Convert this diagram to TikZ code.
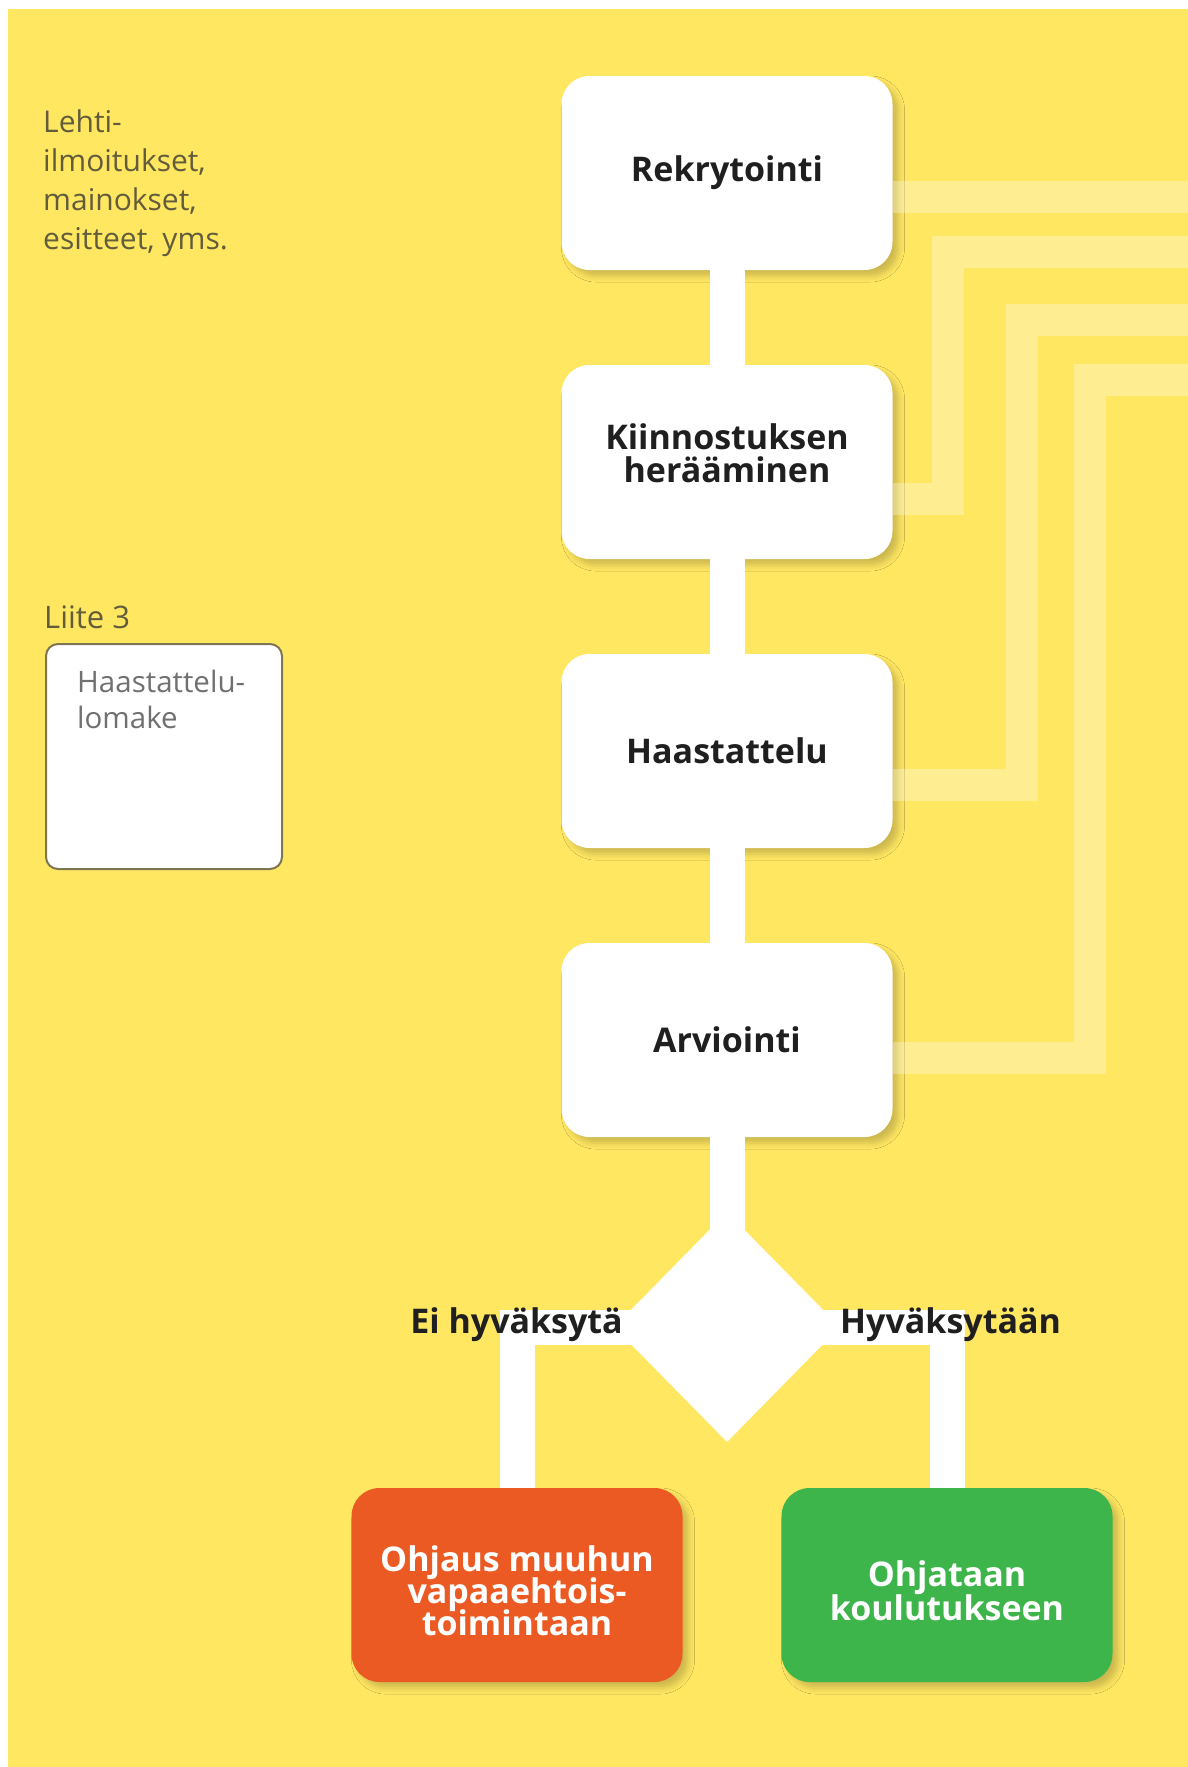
\documentclass[tikz,border=0pt]{standalone}
\usepackage{fontspec}
\setmainfont{Open Sans}
\usetikzlibrary{positioning,calc,shapes.geometric,shadows.blur}
\definecolor{pohja}{HTML}{FFE762}
\definecolor{oranssi}{HTML}{EC5A24}
\definecolor{vihrea}{HTML}{3DB54A}
\definecolor{oliivi}{HTML}{625C3C}
\definecolor{reuna}{HTML}{7E7652}
\lineskiplimit=-30pt
\newcommand{\ylos}{\rule{0pt}{38pt}}
\tikzset{
	vaihe/.style={
			rectangle, rounded corners=28pt, fill=white, minimum width=331pt, minimum height=194pt,
			align=center, text=black!88, font=\fontsize{34}{33}\selectfont\bfseries,
			blur shadow={shadow xshift=6pt, shadow yshift=-6pt, shadow opacity=20, shadow blur radius=6pt}
		},
	tulos/.style={vaihe, text=white, font=\fontsize{34}{#1}\selectfont\bfseries},
	valinta/.style={inner sep=0pt, text=black!88, font=\fontsize{34}{33}\selectfont\bfseries},
	runko/.style={draw=white, line width=35pt},
	haamu/.style={draw=white, draw opacity=0.3, line width=32pt},
	sivu/.style={anchor=north west, inner sep=0pt, align=left, text=oliivi, font=\fontsize{30}{39}\selectfont}
}

\begin{document}
\begin{tikzpicture}[x=1pt, y=-1pt]
	\useasboundingbox (0,0) rectangle (1188,1767);
	\fill[pohja] (8,9) rectangle (1188,1767);

	% vaiheet
	\node[vaihe] (rekry) at (727,173) {Rekrytointi};
	\node[vaihe, text depth=18pt] (kiinn) at (727,462) {Kiinnostuksen\\herääminen};
	\node[vaihe] (haast) at (727,751) {Haastattelu};
	\node[vaihe] (arvi) at (727,1040) {Arviointi};
	\node[diamond, fill=white, minimum width=226pt, minimum height=230pt, inner sep=0pt] (paatos) at (727,1327) {};
	\node[tulos=32, fill=oranssi] (ohjaus) at (517,1585) {\ylos Ohjaus muuhun\\vapaaehtois-\\toimintaan};
	\node[tulos=34, fill=vihrea] (koulutus) at (947,1585) {\ylos Ohjataan\\koulutukseen};

	% vasen reuna
	\node[sivu] (lehti) at (43,110) {Lehti-\\ilmoitukset,\\mainokset,\\esitteet, yms.};
	\node[sivu, font=\fontsize{31}{36}\selectfont] (liite) at (44,606) {Liite 3};
	\node[draw=reuna, line width=2pt, rounded corners=12pt, fill=white, minimum width=236pt, minimum height=225pt, anchor=north west] (lomake) at (45,643) {};
	\node[sivu, text=black!56, font=\fontsize{29.5}{36}\selectfont] (lomaketxt) at (77,670) {Haastattelu-\\lomake};

	\coordinate (reunaA) at (1188,197);
	\coordinate (reunaB) at (1188,252);
	\coordinate (reunaC) at (1188,320);
	\coordinate (reunaD) at (1188,380);
	\coordinate (mutkaB) at (948,499);
	\coordinate (mutkaC) at (1022,785);
	\coordinate (mutkaD) at (1090,1058);

	\foreach \a/\b in {rekry/kiinn, kiinn/haast, haast/arvi, arvi/paatos.center}
		\draw[runko] (\a) -- (\b);
	\draw[runko] (paatos.center) -| (ohjaus.north);
	\draw[runko] (paatos.center) -| (koulutus.north);

	\draw[haamu] (rekry.east |- reunaA) -- (reunaA);
	\draw[haamu] (kiinn.east |- mutkaB) -- (mutkaB) |- (reunaB);
	\draw[haamu] (haast.east |- mutkaC) -- (mutkaC) |- (reunaC);
	\draw[haamu] (arvi.east |- mutkaD) -- (mutkaD) |- (reunaD);

	\node[valinta, anchor=base east] (ei) at ($(paatos.center)+(-104,6)$) {Ei hyväksytä};
	\node[valinta, anchor=base west] (kylla) at ($(paatos.center)+(113,6)$) {Hyväksytään};
\end{tikzpicture}
\end{document}
